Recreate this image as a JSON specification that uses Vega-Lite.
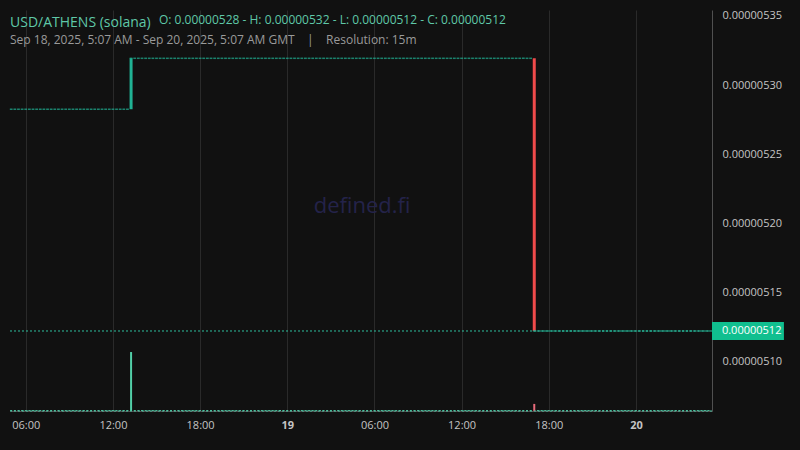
{
  "$schema": "https://vega.github.io/schema/vega-lite/v6.json",
  "width": 702,
  "height": 401,
  "autosize": {"type": "none"},
  "padding": {"left": 10, "top": 10, "right": 88, "bottom": 39},
  "background": "#111111",
  "config": {
    "font": "Open Sans",
    "view": {"stroke": null},
    "axis": {
      "gridColor": "#2a2a2a",
      "gridWidth": 1,
      "domainColor": "#505050",
      "ticks": false,
      "labelColor": "#c4c4c4",
      "labelFontSize": 11,
      "title": null
    },
    "text": {"fontWeight": "normal"}
  },
  "title": {
    "text": "USD/ATHENS (solana)",
    "subtitle": "Sep 18, 2025, 5:07 AM - Sep 20, 2025, 5:07 AM GMT\u00a0\u00a0\u00a0\u00a0|\u00a0\u00a0\u00a0\u00a0Resolution: 15m",
    "anchor": "start",
    "frame": "group",
    "offset": -36,
    "color": "#5fc8a8",
    "fontSize": 14,
    "fontWeight": "normal",
    "subtitleColor": "#9a9a9a",
    "subtitleFontSize": 12,
    "subtitlePadding": 5
  },
  "datasets": {
    "candles": [
      {"t": "2025-09-18T05:00:00Z", "o": 5.2826e-6, "c": 5.2826e-6, "v": 15},
      {"t": "2025-09-18T05:15:00Z", "o": 5.2826e-6, "c": 5.2826e-6, "v": 15},
      {"t": "2025-09-18T05:30:00Z", "o": 5.2826e-6, "c": 5.2826e-6, "v": 15},
      {"t": "2025-09-18T05:45:00Z", "o": 5.2826e-6, "c": 5.2826e-6, "v": 15},
      {"t": "2025-09-18T06:00:00Z", "o": 5.2826e-6, "c": 5.2826e-6, "v": 15},
      {"t": "2025-09-18T06:15:00Z", "o": 5.2826e-6, "c": 5.2826e-6, "v": 15},
      {"t": "2025-09-18T06:30:00Z", "o": 5.2826e-6, "c": 5.2826e-6, "v": 15},
      {"t": "2025-09-18T06:45:00Z", "o": 5.2826e-6, "c": 5.2826e-6, "v": 15},
      {"t": "2025-09-18T07:00:00Z", "o": 5.2826e-6, "c": 5.2826e-6, "v": 15},
      {"t": "2025-09-18T07:15:00Z", "o": 5.2826e-6, "c": 5.2826e-6, "v": 15},
      {"t": "2025-09-18T07:30:00Z", "o": 5.2826e-6, "c": 5.2826e-6, "v": 15},
      {"t": "2025-09-18T07:45:00Z", "o": 5.2826e-6, "c": 5.2826e-6, "v": 15},
      {"t": "2025-09-18T08:00:00Z", "o": 5.2826e-6, "c": 5.2826e-6, "v": 15},
      {"t": "2025-09-18T08:15:00Z", "o": 5.2826e-6, "c": 5.2826e-6, "v": 15},
      {"t": "2025-09-18T08:30:00Z", "o": 5.2826e-6, "c": 5.2826e-6, "v": 15},
      {"t": "2025-09-18T08:45:00Z", "o": 5.2826e-6, "c": 5.2826e-6, "v": 15},
      {"t": "2025-09-18T09:00:00Z", "o": 5.2826e-6, "c": 5.2826e-6, "v": 15},
      {"t": "2025-09-18T09:15:00Z", "o": 5.2826e-6, "c": 5.2826e-6, "v": 15},
      {"t": "2025-09-18T09:30:00Z", "o": 5.2826e-6, "c": 5.2826e-6, "v": 15},
      {"t": "2025-09-18T09:45:00Z", "o": 5.2826e-6, "c": 5.2826e-6, "v": 15},
      {"t": "2025-09-18T10:00:00Z", "o": 5.2826e-6, "c": 5.2826e-6, "v": 15},
      {"t": "2025-09-18T10:15:00Z", "o": 5.2826e-6, "c": 5.2826e-6, "v": 15},
      {"t": "2025-09-18T10:30:00Z", "o": 5.2826e-6, "c": 5.2826e-6, "v": 15},
      {"t": "2025-09-18T10:45:00Z", "o": 5.2826e-6, "c": 5.2826e-6, "v": 15},
      {"t": "2025-09-18T11:00:00Z", "o": 5.2826e-6, "c": 5.2826e-6, "v": 15},
      {"t": "2025-09-18T11:15:00Z", "o": 5.2826e-6, "c": 5.2826e-6, "v": 15},
      {"t": "2025-09-18T11:30:00Z", "o": 5.2826e-6, "c": 5.2826e-6, "v": 15},
      {"t": "2025-09-18T11:45:00Z", "o": 5.2826e-6, "c": 5.2826e-6, "v": 15},
      {"t": "2025-09-18T12:00:00Z", "o": 5.2826e-6, "c": 5.2826e-6, "v": 15},
      {"t": "2025-09-18T12:15:00Z", "o": 5.2826e-6, "c": 5.2826e-6, "v": 15},
      {"t": "2025-09-18T12:30:00Z", "o": 5.2826e-6, "c": 5.2826e-6, "v": 15},
      {"t": "2025-09-18T12:45:00Z", "o": 5.2826e-6, "c": 5.2826e-6, "v": 15},
      {"t": "2025-09-18T13:00:00Z", "o": 5.2826e-6, "c": 5.2826e-6, "v": 15},
      {"t": "2025-09-18T13:15:00Z", "o": 5.2826e-6, "c": 5.3194e-6, "v": 1000},
      {"t": "2025-09-18T13:30:00Z", "o": 5.3194e-6, "c": 5.3194e-6, "v": 15},
      {"t": "2025-09-18T13:45:00Z", "o": 5.3194e-6, "c": 5.3194e-6, "v": 15},
      {"t": "2025-09-18T14:00:00Z", "o": 5.3194e-6, "c": 5.3194e-6, "v": 15},
      {"t": "2025-09-18T14:15:00Z", "o": 5.3194e-6, "c": 5.3194e-6, "v": 15},
      {"t": "2025-09-18T14:30:00Z", "o": 5.3194e-6, "c": 5.3194e-6, "v": 15},
      {"t": "2025-09-18T14:45:00Z", "o": 5.3194e-6, "c": 5.3194e-6, "v": 15},
      {"t": "2025-09-18T15:00:00Z", "o": 5.3194e-6, "c": 5.3194e-6, "v": 15},
      {"t": "2025-09-18T15:15:00Z", "o": 5.3194e-6, "c": 5.3194e-6, "v": 15},
      {"t": "2025-09-18T15:30:00Z", "o": 5.3194e-6, "c": 5.3194e-6, "v": 15},
      {"t": "2025-09-18T15:45:00Z", "o": 5.3194e-6, "c": 5.3194e-6, "v": 15},
      {"t": "2025-09-18T16:00:00Z", "o": 5.3194e-6, "c": 5.3194e-6, "v": 15},
      {"t": "2025-09-18T16:15:00Z", "o": 5.3194e-6, "c": 5.3194e-6, "v": 15},
      {"t": "2025-09-18T16:30:00Z", "o": 5.3194e-6, "c": 5.3194e-6, "v": 15},
      {"t": "2025-09-18T16:45:00Z", "o": 5.3194e-6, "c": 5.3194e-6, "v": 15},
      {"t": "2025-09-18T17:00:00Z", "o": 5.3194e-6, "c": 5.3194e-6, "v": 15},
      {"t": "2025-09-18T17:15:00Z", "o": 5.3194e-6, "c": 5.3194e-6, "v": 15},
      {"t": "2025-09-18T17:30:00Z", "o": 5.3194e-6, "c": 5.3194e-6, "v": 15},
      {"t": "2025-09-18T17:45:00Z", "o": 5.3194e-6, "c": 5.3194e-6, "v": 15},
      {"t": "2025-09-18T18:00:00Z", "o": 5.3194e-6, "c": 5.3194e-6, "v": 15},
      {"t": "2025-09-18T18:15:00Z", "o": 5.3194e-6, "c": 5.3194e-6, "v": 15},
      {"t": "2025-09-18T18:30:00Z", "o": 5.3194e-6, "c": 5.3194e-6, "v": 15},
      {"t": "2025-09-18T18:45:00Z", "o": 5.3194e-6, "c": 5.3194e-6, "v": 15},
      {"t": "2025-09-18T19:00:00Z", "o": 5.3194e-6, "c": 5.3194e-6, "v": 15},
      {"t": "2025-09-18T19:15:00Z", "o": 5.3194e-6, "c": 5.3194e-6, "v": 15},
      {"t": "2025-09-18T19:30:00Z", "o": 5.3194e-6, "c": 5.3194e-6, "v": 15},
      {"t": "2025-09-18T19:45:00Z", "o": 5.3194e-6, "c": 5.3194e-6, "v": 15},
      {"t": "2025-09-18T20:00:00Z", "o": 5.3194e-6, "c": 5.3194e-6, "v": 15},
      {"t": "2025-09-18T20:15:00Z", "o": 5.3194e-6, "c": 5.3194e-6, "v": 15},
      {"t": "2025-09-18T20:30:00Z", "o": 5.3194e-6, "c": 5.3194e-6, "v": 15},
      {"t": "2025-09-18T20:45:00Z", "o": 5.3194e-6, "c": 5.3194e-6, "v": 15},
      {"t": "2025-09-18T21:00:00Z", "o": 5.3194e-6, "c": 5.3194e-6, "v": 15},
      {"t": "2025-09-18T21:15:00Z", "o": 5.3194e-6, "c": 5.3194e-6, "v": 15},
      {"t": "2025-09-18T21:30:00Z", "o": 5.3194e-6, "c": 5.3194e-6, "v": 15},
      {"t": "2025-09-18T21:45:00Z", "o": 5.3194e-6, "c": 5.3194e-6, "v": 15},
      {"t": "2025-09-18T22:00:00Z", "o": 5.3194e-6, "c": 5.3194e-6, "v": 15},
      {"t": "2025-09-18T22:15:00Z", "o": 5.3194e-6, "c": 5.3194e-6, "v": 15},
      {"t": "2025-09-18T22:30:00Z", "o": 5.3194e-6, "c": 5.3194e-6, "v": 15},
      {"t": "2025-09-18T22:45:00Z", "o": 5.3194e-6, "c": 5.3194e-6, "v": 15},
      {"t": "2025-09-18T23:00:00Z", "o": 5.3194e-6, "c": 5.3194e-6, "v": 15},
      {"t": "2025-09-18T23:15:00Z", "o": 5.3194e-6, "c": 5.3194e-6, "v": 15},
      {"t": "2025-09-18T23:30:00Z", "o": 5.3194e-6, "c": 5.3194e-6, "v": 15},
      {"t": "2025-09-18T23:45:00Z", "o": 5.3194e-6, "c": 5.3194e-6, "v": 15},
      {"t": "2025-09-19T00:00:00Z", "o": 5.3194e-6, "c": 5.3194e-6, "v": 15},
      {"t": "2025-09-19T00:15:00Z", "o": 5.3194e-6, "c": 5.3194e-6, "v": 15},
      {"t": "2025-09-19T00:30:00Z", "o": 5.3194e-6, "c": 5.3194e-6, "v": 15},
      {"t": "2025-09-19T00:45:00Z", "o": 5.3194e-6, "c": 5.3194e-6, "v": 15},
      {"t": "2025-09-19T01:00:00Z", "o": 5.3194e-6, "c": 5.3194e-6, "v": 15},
      {"t": "2025-09-19T01:15:00Z", "o": 5.3194e-6, "c": 5.3194e-6, "v": 15},
      {"t": "2025-09-19T01:30:00Z", "o": 5.3194e-6, "c": 5.3194e-6, "v": 15},
      {"t": "2025-09-19T01:45:00Z", "o": 5.3194e-6, "c": 5.3194e-6, "v": 15},
      {"t": "2025-09-19T02:00:00Z", "o": 5.3194e-6, "c": 5.3194e-6, "v": 15},
      {"t": "2025-09-19T02:15:00Z", "o": 5.3194e-6, "c": 5.3194e-6, "v": 15},
      {"t": "2025-09-19T02:30:00Z", "o": 5.3194e-6, "c": 5.3194e-6, "v": 15},
      {"t": "2025-09-19T02:45:00Z", "o": 5.3194e-6, "c": 5.3194e-6, "v": 15},
      {"t": "2025-09-19T03:00:00Z", "o": 5.3194e-6, "c": 5.3194e-6, "v": 15},
      {"t": "2025-09-19T03:15:00Z", "o": 5.3194e-6, "c": 5.3194e-6, "v": 15},
      {"t": "2025-09-19T03:30:00Z", "o": 5.3194e-6, "c": 5.3194e-6, "v": 15},
      {"t": "2025-09-19T03:45:00Z", "o": 5.3194e-6, "c": 5.3194e-6, "v": 15},
      {"t": "2025-09-19T04:00:00Z", "o": 5.3194e-6, "c": 5.3194e-6, "v": 15},
      {"t": "2025-09-19T04:15:00Z", "o": 5.3194e-6, "c": 5.3194e-6, "v": 15},
      {"t": "2025-09-19T04:30:00Z", "o": 5.3194e-6, "c": 5.3194e-6, "v": 15},
      {"t": "2025-09-19T04:45:00Z", "o": 5.3194e-6, "c": 5.3194e-6, "v": 15},
      {"t": "2025-09-19T05:00:00Z", "o": 5.3194e-6, "c": 5.3194e-6, "v": 15},
      {"t": "2025-09-19T05:15:00Z", "o": 5.3194e-6, "c": 5.3194e-6, "v": 15},
      {"t": "2025-09-19T05:30:00Z", "o": 5.3194e-6, "c": 5.3194e-6, "v": 15},
      {"t": "2025-09-19T05:45:00Z", "o": 5.3194e-6, "c": 5.3194e-6, "v": 15},
      {"t": "2025-09-19T06:00:00Z", "o": 5.3194e-6, "c": 5.3194e-6, "v": 15},
      {"t": "2025-09-19T06:15:00Z", "o": 5.3194e-6, "c": 5.3194e-6, "v": 15},
      {"t": "2025-09-19T06:30:00Z", "o": 5.3194e-6, "c": 5.3194e-6, "v": 15},
      {"t": "2025-09-19T06:45:00Z", "o": 5.3194e-6, "c": 5.3194e-6, "v": 15},
      {"t": "2025-09-19T07:00:00Z", "o": 5.3194e-6, "c": 5.3194e-6, "v": 15},
      {"t": "2025-09-19T07:15:00Z", "o": 5.3194e-6, "c": 5.3194e-6, "v": 15},
      {"t": "2025-09-19T07:30:00Z", "o": 5.3194e-6, "c": 5.3194e-6, "v": 15},
      {"t": "2025-09-19T07:45:00Z", "o": 5.3194e-6, "c": 5.3194e-6, "v": 15},
      {"t": "2025-09-19T08:00:00Z", "o": 5.3194e-6, "c": 5.3194e-6, "v": 15},
      {"t": "2025-09-19T08:15:00Z", "o": 5.3194e-6, "c": 5.3194e-6, "v": 15},
      {"t": "2025-09-19T08:30:00Z", "o": 5.3194e-6, "c": 5.3194e-6, "v": 15},
      {"t": "2025-09-19T08:45:00Z", "o": 5.3194e-6, "c": 5.3194e-6, "v": 15},
      {"t": "2025-09-19T09:00:00Z", "o": 5.3194e-6, "c": 5.3194e-6, "v": 15},
      {"t": "2025-09-19T09:15:00Z", "o": 5.3194e-6, "c": 5.3194e-6, "v": 15},
      {"t": "2025-09-19T09:30:00Z", "o": 5.3194e-6, "c": 5.3194e-6, "v": 15},
      {"t": "2025-09-19T09:45:00Z", "o": 5.3194e-6, "c": 5.3194e-6, "v": 15},
      {"t": "2025-09-19T10:00:00Z", "o": 5.3194e-6, "c": 5.3194e-6, "v": 15},
      {"t": "2025-09-19T10:15:00Z", "o": 5.3194e-6, "c": 5.3194e-6, "v": 15},
      {"t": "2025-09-19T10:30:00Z", "o": 5.3194e-6, "c": 5.3194e-6, "v": 15},
      {"t": "2025-09-19T10:45:00Z", "o": 5.3194e-6, "c": 5.3194e-6, "v": 15},
      {"t": "2025-09-19T11:00:00Z", "o": 5.3194e-6, "c": 5.3194e-6, "v": 15},
      {"t": "2025-09-19T11:15:00Z", "o": 5.3194e-6, "c": 5.3194e-6, "v": 15},
      {"t": "2025-09-19T11:30:00Z", "o": 5.3194e-6, "c": 5.3194e-6, "v": 15},
      {"t": "2025-09-19T11:45:00Z", "o": 5.3194e-6, "c": 5.3194e-6, "v": 15},
      {"t": "2025-09-19T12:00:00Z", "o": 5.3194e-6, "c": 5.3194e-6, "v": 15},
      {"t": "2025-09-19T12:15:00Z", "o": 5.3194e-6, "c": 5.3194e-6, "v": 15},
      {"t": "2025-09-19T12:30:00Z", "o": 5.3194e-6, "c": 5.3194e-6, "v": 15},
      {"t": "2025-09-19T12:45:00Z", "o": 5.3194e-6, "c": 5.3194e-6, "v": 15},
      {"t": "2025-09-19T13:00:00Z", "o": 5.3194e-6, "c": 5.3194e-6, "v": 15},
      {"t": "2025-09-19T13:15:00Z", "o": 5.3194e-6, "c": 5.3194e-6, "v": 15},
      {"t": "2025-09-19T13:30:00Z", "o": 5.3194e-6, "c": 5.3194e-6, "v": 15},
      {"t": "2025-09-19T13:45:00Z", "o": 5.3194e-6, "c": 5.3194e-6, "v": 15},
      {"t": "2025-09-19T14:00:00Z", "o": 5.3194e-6, "c": 5.3194e-6, "v": 15},
      {"t": "2025-09-19T14:15:00Z", "o": 5.3194e-6, "c": 5.3194e-6, "v": 15},
      {"t": "2025-09-19T14:30:00Z", "o": 5.3194e-6, "c": 5.3194e-6, "v": 15},
      {"t": "2025-09-19T14:45:00Z", "o": 5.3194e-6, "c": 5.3194e-6, "v": 15},
      {"t": "2025-09-19T15:00:00Z", "o": 5.3194e-6, "c": 5.3194e-6, "v": 15},
      {"t": "2025-09-19T15:15:00Z", "o": 5.3194e-6, "c": 5.3194e-6, "v": 15},
      {"t": "2025-09-19T15:30:00Z", "o": 5.3194e-6, "c": 5.3194e-6, "v": 15},
      {"t": "2025-09-19T15:45:00Z", "o": 5.3194e-6, "c": 5.3194e-6, "v": 15},
      {"t": "2025-09-19T16:00:00Z", "o": 5.3194e-6, "c": 5.3194e-6, "v": 15},
      {"t": "2025-09-19T16:15:00Z", "o": 5.3194e-6, "c": 5.3194e-6, "v": 15},
      {"t": "2025-09-19T16:30:00Z", "o": 5.3194e-6, "c": 5.3194e-6, "v": 15},
      {"t": "2025-09-19T16:45:00Z", "o": 5.3194e-6, "c": 5.3194e-6, "v": 15},
      {"t": "2025-09-19T17:00:00Z", "o": 5.3194e-6, "c": 5.1224e-6, "v": 120},
      {"t": "2025-09-19T17:15:00Z", "o": 5.1224e-6, "c": 5.1224e-6, "v": 15},
      {"t": "2025-09-19T17:30:00Z", "o": 5.1224e-6, "c": 5.1224e-6, "v": 15},
      {"t": "2025-09-19T17:45:00Z", "o": 5.1224e-6, "c": 5.1224e-6, "v": 15},
      {"t": "2025-09-19T18:00:00Z", "o": 5.1224e-6, "c": 5.1224e-6, "v": 15},
      {"t": "2025-09-19T18:15:00Z", "o": 5.1224e-6, "c": 5.1224e-6, "v": 15},
      {"t": "2025-09-19T18:30:00Z", "o": 5.1224e-6, "c": 5.1224e-6, "v": 15},
      {"t": "2025-09-19T18:45:00Z", "o": 5.1224e-6, "c": 5.1224e-6, "v": 15},
      {"t": "2025-09-19T19:00:00Z", "o": 5.1224e-6, "c": 5.1224e-6, "v": 15},
      {"t": "2025-09-19T19:15:00Z", "o": 5.1224e-6, "c": 5.1224e-6, "v": 15},
      {"t": "2025-09-19T19:30:00Z", "o": 5.1224e-6, "c": 5.1224e-6, "v": 15},
      {"t": "2025-09-19T19:45:00Z", "o": 5.1224e-6, "c": 5.1224e-6, "v": 15},
      {"t": "2025-09-19T20:00:00Z", "o": 5.1224e-6, "c": 5.1224e-6, "v": 15},
      {"t": "2025-09-19T20:15:00Z", "o": 5.1224e-6, "c": 5.1224e-6, "v": 15},
      {"t": "2025-09-19T20:30:00Z", "o": 5.1224e-6, "c": 5.1224e-6, "v": 15},
      {"t": "2025-09-19T20:45:00Z", "o": 5.1224e-6, "c": 5.1224e-6, "v": 15},
      {"t": "2025-09-19T21:00:00Z", "o": 5.1224e-6, "c": 5.1224e-6, "v": 15},
      {"t": "2025-09-19T21:15:00Z", "o": 5.1224e-6, "c": 5.1224e-6, "v": 15},
      {"t": "2025-09-19T21:30:00Z", "o": 5.1224e-6, "c": 5.1224e-6, "v": 15},
      {"t": "2025-09-19T21:45:00Z", "o": 5.1224e-6, "c": 5.1224e-6, "v": 15},
      {"t": "2025-09-19T22:00:00Z", "o": 5.1224e-6, "c": 5.1224e-6, "v": 15},
      {"t": "2025-09-19T22:15:00Z", "o": 5.1224e-6, "c": 5.1224e-6, "v": 15},
      {"t": "2025-09-19T22:30:00Z", "o": 5.1224e-6, "c": 5.1224e-6, "v": 15},
      {"t": "2025-09-19T22:45:00Z", "o": 5.1224e-6, "c": 5.1224e-6, "v": 15},
      {"t": "2025-09-19T23:00:00Z", "o": 5.1224e-6, "c": 5.1224e-6, "v": 15},
      {"t": "2025-09-19T23:15:00Z", "o": 5.1224e-6, "c": 5.1224e-6, "v": 15},
      {"t": "2025-09-19T23:30:00Z", "o": 5.1224e-6, "c": 5.1224e-6, "v": 15},
      {"t": "2025-09-19T23:45:00Z", "o": 5.1224e-6, "c": 5.1224e-6, "v": 15},
      {"t": "2025-09-20T00:00:00Z", "o": 5.1224e-6, "c": 5.1224e-6, "v": 15},
      {"t": "2025-09-20T00:15:00Z", "o": 5.1224e-6, "c": 5.1224e-6, "v": 15},
      {"t": "2025-09-20T00:30:00Z", "o": 5.1224e-6, "c": 5.1224e-6, "v": 15},
      {"t": "2025-09-20T00:45:00Z", "o": 5.1224e-6, "c": 5.1224e-6, "v": 15},
      {"t": "2025-09-20T01:00:00Z", "o": 5.1224e-6, "c": 5.1224e-6, "v": 15},
      {"t": "2025-09-20T01:15:00Z", "o": 5.1224e-6, "c": 5.1224e-6, "v": 15},
      {"t": "2025-09-20T01:30:00Z", "o": 5.1224e-6, "c": 5.1224e-6, "v": 15},
      {"t": "2025-09-20T01:45:00Z", "o": 5.1224e-6, "c": 5.1224e-6, "v": 15},
      {"t": "2025-09-20T02:00:00Z", "o": 5.1224e-6, "c": 5.1224e-6, "v": 15},
      {"t": "2025-09-20T02:15:00Z", "o": 5.1224e-6, "c": 5.1224e-6, "v": 15},
      {"t": "2025-09-20T02:30:00Z", "o": 5.1224e-6, "c": 5.1224e-6, "v": 15},
      {"t": "2025-09-20T02:45:00Z", "o": 5.1224e-6, "c": 5.1224e-6, "v": 15},
      {"t": "2025-09-20T03:00:00Z", "o": 5.1224e-6, "c": 5.1224e-6, "v": 15},
      {"t": "2025-09-20T03:15:00Z", "o": 5.1224e-6, "c": 5.1224e-6, "v": 15},
      {"t": "2025-09-20T03:30:00Z", "o": 5.1224e-6, "c": 5.1224e-6, "v": 15},
      {"t": "2025-09-20T03:45:00Z", "o": 5.1224e-6, "c": 5.1224e-6, "v": 15},
      {"t": "2025-09-20T04:00:00Z", "o": 5.1224e-6, "c": 5.1224e-6, "v": 15},
      {"t": "2025-09-20T04:15:00Z", "o": 5.1224e-6, "c": 5.1224e-6, "v": 15},
      {"t": "2025-09-20T04:30:00Z", "o": 5.1224e-6, "c": 5.1224e-6, "v": 15},
      {"t": "2025-09-20T04:45:00Z", "o": 5.1224e-6, "c": 5.1224e-6, "v": 15},
      {"t": "2025-09-20T05:00:00Z", "o": 5.1224e-6, "c": 5.1224e-6, "v": 15}
    ]
  },
  "data": {"name": "candles"},
  "layer": [
    {
      "layer": [
        {
          "mark": {"type": "bar", "width": 2},
          "encoding": {
            "x": {
              "field": "t",
              "type": "temporal",
              "scale": {
                "type": "utc",
                "padding": 0,
                "domain": [
                  {"year": 2025, "month": 9, "date": 18, "hours": 4, "minutes": 55, "utc": true},
                  {"year": 2025, "month": 9, "date": 20, "hours": 5, "minutes": 14, "utc": true}
                ]
              },
              "axis": {
                "values": [
                  {"year": 2025, "month": 9, "date": 18, "hours": 6, "utc": true},
                  {"year": 2025, "month": 9, "date": 18, "hours": 12, "utc": true},
                  {"year": 2025, "month": 9, "date": 18, "hours": 18, "utc": true},
                  {"year": 2025, "month": 9, "date": 19, "hours": 0, "utc": true},
                  {"year": 2025, "month": 9, "date": 19, "hours": 6, "utc": true},
                  {"year": 2025, "month": 9, "date": 19, "hours": 12, "utc": true},
                  {"year": 2025, "month": 9, "date": 19, "hours": 18, "utc": true},
                  {"year": 2025, "month": 9, "date": 20, "hours": 0, "utc": true}
                ],
                "labelExpr": "utchours(datum.value) == 0 ? utcFormat(datum.value, '%-d') : utcFormat(datum.value, '%H:%M')",
                "labelFontWeight": {"condition": {"test": "utchours(datum.value) == 0", "value": "bold"}, "value": "normal"},
                "labelPadding": 8,
                "labelFlush": false
              }
            },
            "y": {
              "field": "v",
              "type": "quantitative",
              "scale": {"domain": [0, 6800], "nice": false, "padding": 0},
              "axis": null
            },
            "color": {
              "condition": {"test": "datum.c < datum.o", "value": "#e86b7b"},
              "value": "#52cfa8"
            }
          }
        },
        {
          "data": {"values": [{}]},
          "mark": {"type": "rule", "color": "#4cc3a3", "strokeDash": [2, 2], "strokeWidth": 1},
          "encoding": {"y": {"datum": 0}}
        }
      ]
    },
    {
      "layer": [
        {
          "mark": {"type": "bar", "width": 3},
          "encoding": {
            "x": {"field": "t", "type": "temporal"},
            "y": {
              "field": "o",
              "type": "quantitative",
              "scale": {"domain": [5.0646e-6, 5.3543e-6], "nice": false, "zero": false, "padding": 0},
              "axis": {
                "orient": "right",
                "values": [5.10e-6, 5.15e-6, 5.20e-6, 5.25e-6, 5.30e-6, 5.35e-6],
                "format": ".8f",
                "labelPadding": 10
              }
            },
            "y2": {"field": "c"},
            "color": {
              "condition": {"test": "datum.c < datum.o", "value": "#f04b4b"},
              "value": "#20b294"
            }
          }
        },
        {
          "mark": {"type": "tick", "orient": "horizontal", "thickness": 1.5, "size": 2.8, "color": "#20b294"},
          "encoding": {
            "x": {"field": "t", "type": "temporal"},
            "y": {"field": "c", "type": "quantitative"}
          }
        },
        {
          "data": {"values": [{}]},
          "mark": {"type": "rule", "color": "#2fbf9f", "strokeDash": [2, 2], "strokeWidth": 1},
          "encoding": {"y": {"datum": 5.1224e-6}}
        },
        {
          "data": {"values": [{}]},
          "mark": {"type": "rect", "color": "#10bf8f"},
          "encoding": {
            "x": {"datum": {"year": 2025, "month": 9, "date": 20, "hours": 5, "minutes": 14, "utc": true}, "type": "temporal"},
            "x2": {"datum": {"year": 2025, "month": 9, "date": 20, "hours": 10, "minutes": 11, "utc": true}},
            "y": {"datum": 5.1159e-6},
            "y2": {"datum": 5.1289e-6}
          }
        },
        {
          "data": {"values": [{}]},
          "mark": {"type": "text", "align": "left", "baseline": "middle", "color": "#ffffff", "fontSize": 11, "fontWeight": "normal"},
          "encoding": {
            "x": {"datum": {"year": 2025, "month": 9, "date": 20, "hours": 5, "minutes": 55, "utc": true}, "type": "temporal"},
            "y": {"datum": 5.1224e-6},
            "text": {"value": "0.00000512"}
          }
        },
        {
          "data": {"values": [{}]},
          "mark": {"type": "text", "align": "center", "baseline": "middle", "color": "#24234a", "fontSize": 22, "fontWeight": "normal"},
          "encoding": {
            "x": {"datum": {"year": 2025, "month": 9, "date": 19, "hours": 5, "minutes": 9, "utc": true}, "type": "temporal"},
            "y": {"datum": 5.2127e-6},
            "text": {"value": "defined.fi"}
          }
        },
        {
          "data": {"values": [{}]},
          "mark": {"type": "text", "align": "left", "baseline": "middle", "color": "#5fc8a8", "fontSize": 12, "fontWeight": "normal"},
          "encoding": {
            "x": {"datum": {"year": 2025, "month": 9, "date": 18, "hours": 15, "minutes": 10, "utc": true}, "type": "temporal"},
            "y": {"datum": 5.3474e-6},
            "text": {"value": "O: 0.00000528 - H: 0.00000532 - L: 0.00000512 - C: 0.00000512"}
          }
        }
      ]
    }
  ],
  "resolve": {"scale": {"y": "independent"}, "axis": {"y": "independent"}}
}
